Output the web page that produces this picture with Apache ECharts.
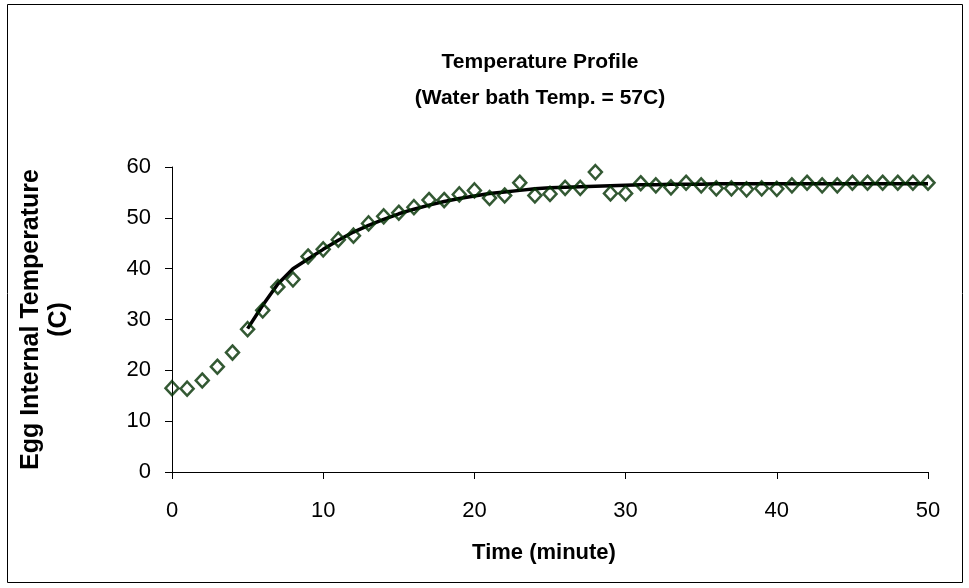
<!DOCTYPE html>
<html>
<head>
<meta charset="utf-8">
<script src="https://cdn.jsdelivr.net/npm/echarts@6/dist/echarts.min.js"></script>
<style>
  html, body { margin: 0; padding: 0; background: #fff; }
  #chart { width: 969px; height: 588px; }
</style>
</head>
<body>
<div id="chart"></div>
<script>
// Measured egg core temperature, one reading per minute
const minutes = [0,1,2,3,4,5,6,7,8,9,10,11,12,13,14,15,16,17,18,19,20,21,22,23,24,25,
  26,27,28,29,30,31,32,33,34,35,36,37,38,39,40,41,42,43,44,45,46,47,48,49,50];
const measuredTemp = [16.5,16.4,18.0,20.7,23.5,28.1,31.8,36.4,37.9,42.4,43.8,45.7,46.5,
  48.9,50.3,51.0,52.1,53.5,53.5,54.6,55.4,53.9,54.4,56.9,54.4,54.7,55.9,55.9,59.0,54.8,
  54.8,56.8,56.4,56.0,56.9,56.4,55.8,55.8,55.6,55.8,55.7,56.4,56.9,56.4,56.4,56.9,56.9,
  56.9,56.9,56.9,56.9];

// Predicted curve, minutes 5 to 50
const modelMinutes = [5,6,7,8,9,10,11,12,13,14,15,16,17,18,19,20,21,22,23,24,25,26,27,
  28,29,30,31,32,33,34,35,36,37,38,39,40,41,42,43,44,45,46,47,48,49,50];
const modelTemp = [28.2,32.8,37.0,40.0,41.9,43.8,45.6,47.2,48.5,49.7,50.8,51.7,52.5,53.2,
  53.8,54.3,54.8,55.1,55.4,55.7,55.9,56.0,56.1,56.2,56.3,56.4,56.5,56.5,56.6,56.6,56.6,
  56.7,56.7,56.7,56.7,56.7,56.7,56.7,56.7,56.7,56.7,56.7,56.7,56.7,56.7,56.7];

const xTicks = [0, 10, 20, 30, 40, 50];
const yTicks = [0, 10, 20, 30, 40, 50, 60];

const FONT = 'Liberation Sans, Arial, sans-serif';

const chart = echarts.init(document.getElementById('chart'), null, { renderer: 'canvas' });

chart.setOption({
  backgroundColor: '#ffffff',
  animation: false,
  title: {
    text: 'Temperature Profile\n(Water bath Temp. = 57C)',
    left: 535,
    top: 39,
    textAlign: 'center',
    textStyle: {
      fontFamily: FONT,
      fontWeight: 'bold',
      fontSize: 21,
      lineHeight: 36,
      color: '#000'
    }
  },
  graphic: [{
    type: 'rect',
    shape: { x: 7.5, y: 4.5, width: 955, height: 578 },
    style: { fill: 'none', stroke: '#000', lineWidth: 1 },
    silent: true
  }],
  grid: { left: 172, right: 41, top: 167, bottom: 116, containLabel: false },
  xAxis: {
    type: 'value',
    min: xTicks[0],
    max: xTicks[xTicks.length - 1],
    interval: 10,
    name: 'Time (minute)',
    nameLocation: 'middle',
    nameGap: 70,
    nameTextStyle: { fontFamily: FONT, fontWeight: 'bold', fontSize: 22, color: '#000', padding: [0, 12, 0, 0] },
    axisLine: { show: true, lineStyle: { color: '#000', width: 1 } },
    axisTick: { show: true, inside: false, length: 7, lineStyle: { color: '#000' } },
    axisLabel: { fontFamily: FONT, fontSize: 22, color: '#000', margin: 28 },
    splitLine: { show: false }
  },
  yAxis: {
    type: 'value',
    min: yTicks[0],
    max: yTicks[yTicks.length - 1],
    interval: 10,
    name: 'Egg Internal Temperature\n(C)',
    nameLocation: 'middle',
    nameRotate: 90,
    nameGap: 99,
    nameTextStyle: { fontFamily: FONT, fontWeight: 'bold', fontSize: 25, color: '#000', lineHeight: 28 },
    axisLine: { show: true, lineStyle: { color: '#000', width: 1 } },
    axisTick: { show: true, inside: false, length: 7, lineStyle: { color: '#000' } },
    axisLabel: { fontFamily: FONT, fontSize: 22, color: '#000', margin: 21 },
    splitLine: { show: false }
  },
  series: [
    {
      name: 'Model',
      type: 'line',
      data: modelMinutes.map((t, i) => [t, modelTemp[i]]),
      showSymbol: false,
      symbol: 'none',
      lineStyle: { color: '#000', width: 3.5 },
      z: 2
    },
    {
      name: 'Measured',
      type: 'scatter',
      data: minutes.map((t, i) => [t, measuredTemp[i]]),
      symbol: 'diamond',
      symbolSize: [13, 14],
      itemStyle: { color: 'rgba(0,0,0,0)', borderColor: '#003000', borderWidth: 2.5 },
      z: 3
    }
  ]
});
</script>
</body>
</html>
